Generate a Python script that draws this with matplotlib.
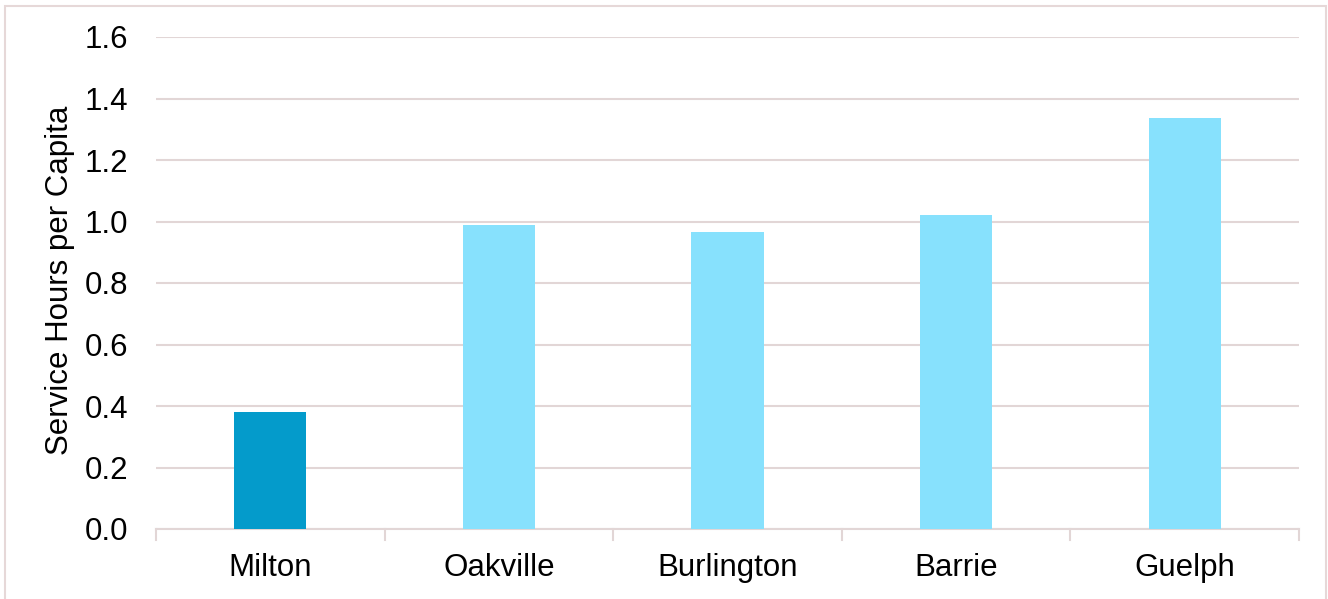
import matplotlib
matplotlib.use("Agg")
import matplotlib.pyplot as plt
from matplotlib.patches import Rectangle
import numpy as np

plt.rcParams['font.family'] = ['Liberation Sans', 'DejaVu Sans']

cities = ["Milton", "Oakville", "Burlington", "Barrie", "Guelph"]
hours_per_capita = [0.38, 0.99, 0.966, 1.021, 1.337]
bar_colors = ["#049BCB", "#87E1FD", "#87E1FD", "#87E1FD", "#87E1FD"]
y_ticks = [0.0, 0.2, 0.4, 0.6, 0.8, 1.0, 1.2, 1.4, 1.6]

grid_col = "#E2D6D6"

fig = plt.figure(figsize=(13.28, 5.99), dpi=100, facecolor="w")
ax = fig.add_axes([156 / 1328, 1 - 529 / 599, (1299 - 156) / 1328, (529 - 37) / 599])

x = np.arange(len(cities))
ax.bar(x, hours_per_capita, width=0.315, color=bar_colors, zorder=3)

ax.set_xlim(-0.5, len(cities) - 0.5)
ax.set_ylim(0, 1.6)
ax.set_yticks(y_ticks)
ax.set_yticklabels([f"{t:.1f}" for t in y_ticks], fontsize=22.5)
ax.yaxis.grid(True, color=grid_col, linewidth=1.5, zorder=0)

# category labels centred, separator ticks between categories
ax.set_xticks(x)
ax.set_xticklabels(cities, fontsize=22.5)
ax.tick_params(axis="x", length=0, pad=17)
ax.tick_params(axis="y", length=0, pad=20)
for b in np.arange(-0.5, len(cities), 1.0):
    ax.plot([b, b], [0, -0.035], color=grid_col, lw=1.5, clip_on=False, zorder=2)

for s in ["top", "right", "left"]:
    ax.spines[s].set_visible(False)
ax.spines["bottom"].set_color(grid_col)
ax.spines["bottom"].set_linewidth(1.5)

ax.set_ylabel("Service Hours per Capita", fontsize=22.5)
ax.yaxis.set_label_coords(60 / 1328, 1 - 280 / 599, transform=fig.transFigure)
ax.yaxis.label.set_verticalalignment("center")

# outer chart frame
fig.patches.append(Rectangle((5 / 1328, -0.01), 1321 / 1328, 1 - 6 / 599 + 0.01,
                             transform=fig.transFigure, fill=False,
                             edgecolor="#E6D8D8", linewidth=1.5))

fig.savefig("out.png", dpi=100, facecolor="w")
